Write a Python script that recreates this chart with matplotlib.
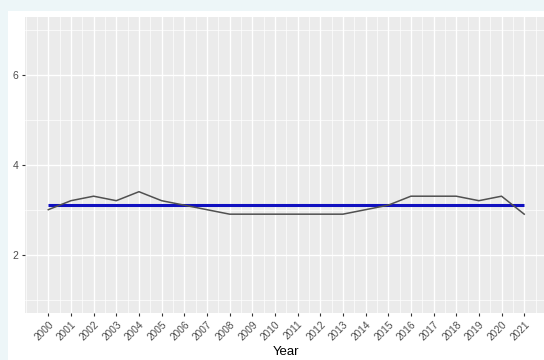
import matplotlib
matplotlib.use("Agg")
import matplotlib.pyplot as plt
from matplotlib.patches import Rectangle
from matplotlib.ticker import MultipleLocator
import numpy as np

plt.rcParams["font.family"] = ["Liberation Sans", "DejaVu Sans"]

years = list(range(2000, 2022))
values = [3.0, 3.2, 3.3, 3.2, 3.4, 3.2, 3.1, 3.0, 2.9, 2.9, 2.9,
          2.9, 2.9, 2.9, 3.0, 3.1, 3.3, 3.3, 3.3, 3.2, 3.3, 2.9]
mean_value = np.mean(values)

fig = plt.figure(figsize=(5.44, 3.6), dpi=100)
fig.patch.set_facecolor("#edf6f8")
# white plot card behind the axes
card = Rectangle((8 / 544, 0), 1, 1 - 11 / 360, transform=fig.transFigure,
                 facecolor="white", edgecolor="none", zorder=-10)
fig.add_artist(card)

ax = fig.add_axes([24.5 / 544, 1 - 313 / 360, (548 - 24.5) / 544, (313 - 16.5) / 360])
ax.set_zorder(1)
ax.set_facecolor("#ebebeb")
for s in ax.spines.values():
    s.set_visible(False)

ax.plot(years, [mean_value] * len(years), color="#1010c0", lw=2.2, zorder=3,
        solid_capstyle="butt")
ax.plot(years, values, color="#505050", lw=1.1, zorder=4)

ax.set_xlim(2000 - 1.05, 2021 + 1.05)
ax.set_ylim(0.7, 7.3)
ax.set_xticks(years)
ax.set_xticklabels([str(y) for y in years], rotation=45, ha="right",
                   rotation_mode="anchor", fontsize=7.2, color="#4d4d4d")
ax.xaxis.set_minor_locator(MultipleLocator(0.5))
ax.set_yticks([2, 4, 6])
ax.set_yticklabels(["2", "4", "6"], fontsize=7.5, color="#4d4d4d")
ax.yaxis.set_minor_locator(MultipleLocator(1))

ax.grid(which="major", color="white", lw=1.0)
ax.grid(which="minor", color="white", lw=0.5)
ax.set_axisbelow(True)
ax.tick_params(which="major", length=2.5, width=0.8, color="#333333", pad=2)
ax.tick_params(which="minor", length=0)

ax.set_xlabel("Year", fontsize=9.5, color="black", labelpad=2.5)

fig.savefig("out.png", dpi=100, facecolor=fig.get_facecolor())
